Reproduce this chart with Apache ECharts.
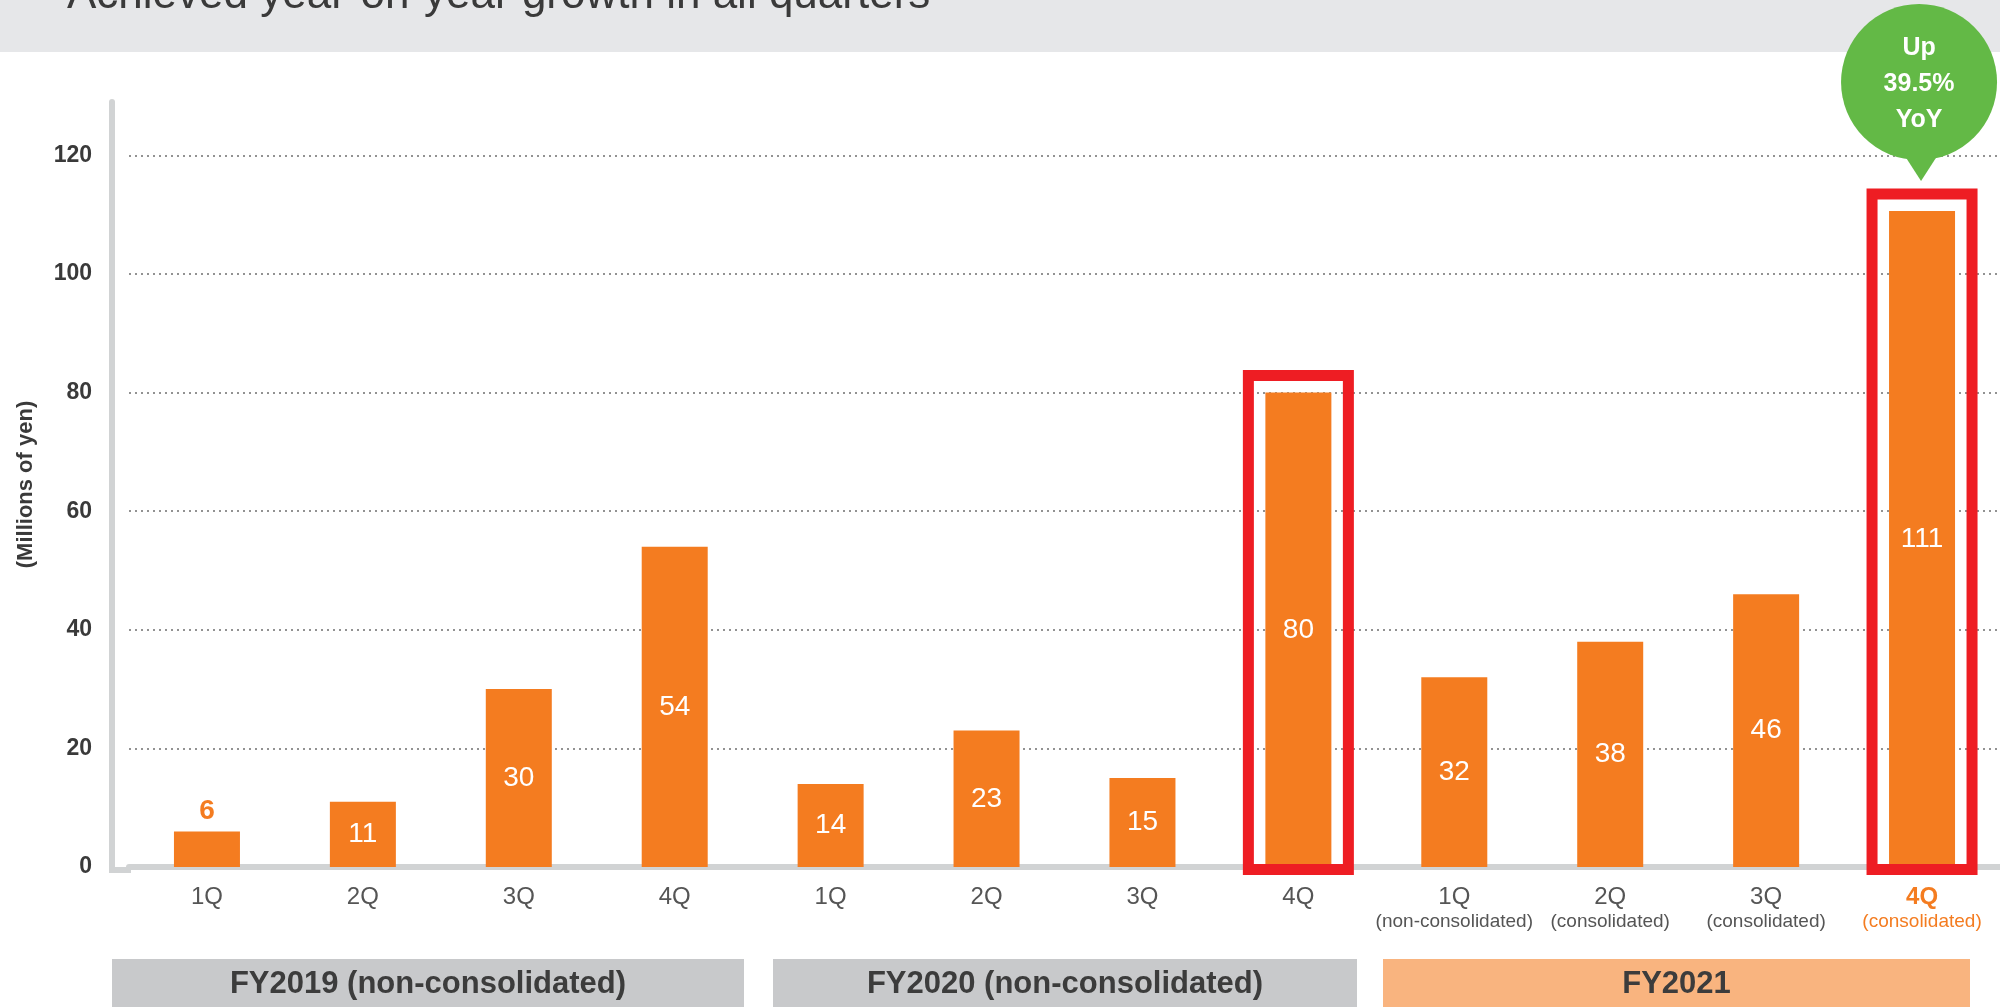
<!DOCTYPE html>
<html>
<head>
<meta charset="utf-8">
<script src="https://cdn.jsdelivr.net/npm/echarts@6/dist/echarts.min.js"></script>
<style>
html,body{margin:0;padding:0;background:#fff;}
#chart{width:2000px;height:1007px;}
</style>
</head>
<body>
<div id="chart"></div>
<script>
// ---- data ----
const chartTitle = 'Achieved year-on-year growth in all quarters';
const quarters = ['1Q','2Q','3Q','4Q','1Q','2Q','3Q','4Q','1Q','2Q','3Q','4Q'];
const quarterNotes = ['','','','','','','','','(non-consolidated)','(consolidated)','(consolidated)','(consolidated)'];
const sales = [6, 11, 30, 54, 14, 23, 15, 80, 32, 38, 46, 110.6];
const yTicks = [0, 20, 40, 60, 80, 100, 120];
const yAxisName = '(Millions of yen)';
const highlightedBars = [7, 11];
const emphasisCategory = 11;
const outsideLabelBars = [0];
const bubbleBar = 11;
const bubbleLines = ['Up', '39.5%', 'YoY'];
const fiscalYears = ['FY2019 (non-consolidated)', 'FY2020 (non-consolidated)', 'FY2021'];

// ---- styling / layout ----
const FONT = '"Liberation Sans", Arial, Helvetica, sans-serif';
const ORANGE = '#f47c20';
const RED = '#ee1d23';
const GREEN = '#63b946';
const AXIS_GRAY = '#d1d3d4';
const BAR_W = 66;
const fyBoxLayout = [
  {x: 112, w: 632, fill: '#c8c9cb'},
  {x: 773, w: 584, fill: '#c8c9cb'},
  {x: 1383, w: 587, fill: '#f9b47f'}
];

const chart = echarts.init(document.getElementById('chart'), null, {renderer: 'canvas'});

const catIds = quarters.map((q, i) => String(i));

const option = {
  animation: false,
  backgroundColor: '#ffffff',
  textStyle: {fontFamily: FONT},
  grid: {left: 129, right: 0, top: 102, bottom: 140, containLabel: false},
  xAxis: {
    type: 'category',
    data: catIds,
    offset: 3,
    axisLine: {show: true, lineStyle: {color: AXIS_GRAY, width: 6}},
    axisTick: {show: false},
    splitLine: {show: false},
    axisLabel: {
      interval: 0,
      margin: 14,
      formatter: function (v) {
        const idx = Number(v);
        if (idx === emphasisCategory) {
          return '{qh|' + quarters[idx] + '}\n{sh|' + quarterNotes[idx] + '}';
        }
        if (quarterNotes[idx]) {
          return '{q|' + quarters[idx] + '}\n{s|' + quarterNotes[idx] + '}';
        }
        return '{q|' + quarters[idx] + '}';
      },
      rich: {
        q: {fontSize: 24, lineHeight: 26, color: '#555555', fontFamily: FONT},
        s: {fontSize: 19, lineHeight: 24, color: '#555555', fontFamily: FONT},
        qh: {fontSize: 24, lineHeight: 26, color: ORANGE, fontWeight: 'bold', fontFamily: FONT},
        sh: {fontSize: 19, lineHeight: 24, color: ORANGE, fontFamily: FONT}
      }
    }
  },
  yAxis: {
    type: 'value',
    min: yTicks[0],
    max: 129,
    interval: yTicks[1] - yTicks[0],
    offset: 17,
    name: yAxisName,
    nameLocation: 'middle',
    nameRotate: 90,
    nameGap: 75,
    nameTextStyle: {fontSize: 22, fontWeight: 'bold', color: '#3a3a3a', fontFamily: FONT},
    axisLine: {show: true, lineStyle: {color: AXIS_GRAY, width: 6}},
    axisTick: {show: false},
    axisLabel: {
      showMaxLabel: false,
      margin: 20,
      fontSize: 23,
      fontWeight: 'bold',
      color: '#3a3a3a',
      fontFamily: FONT
    },
    splitLine: {
      show: true,
      showMinLine: false,
      showMaxLine: false,
      lineStyle: {color: '#929292', width: 2, type: [2, 4]}
    }
  },
  series: [
    {
      type: 'bar',
      barWidth: BAR_W,
      z: 2,
      itemStyle: {color: ORANGE},
      label: {
        show: true,
        position: 'inside',
        color: '#ffffff',
        fontSize: 28,
        fontFamily: FONT,
        formatter: function (p) { return String(Math.round(p.value)); }
      },
      data: sales.map((v, i) => outsideLabelBars.includes(i)
        ? {value: v, label: {position: 'top', color: ORANGE, fontWeight: 'bold', distance: 6}}
        : v)
    },
    {
      type: 'custom',
      clip: false,
      z: 5,
      silent: true,
      data: highlightedBars.map(i => [i, sales[i]]),
      renderItem: function (params, api) {
        const top = api.coord([api.value(0), api.value(1)]);
        const base = api.coord([api.value(0), 0]);
        const m = 17;
        const y0 = top[1] - m;
        return {
          type: 'rect',
          shape: {x: top[0] - BAR_W / 2 - m, y: y0, width: BAR_W + 2 * m, height: base[1] + 2.5 - y0},
          style: {fill: 'none', stroke: RED, lineWidth: 11}
        };
      }
    },
    {
      type: 'custom',
      clip: false,
      z: 6,
      silent: true,
      data: [[bubbleBar, sales[bubbleBar]]],
      renderItem: function (params, api) {
        const p = api.coord([api.value(0), api.value(1)]);
        const tipX = p[0] - 1;
        const tipY = p[1] - 30;
        const cx = p[0] - 3;
        const cy = tipY - 99;
        return {
          type: 'group',
          children: [
            {type: 'circle', shape: {cx: cx, cy: cy, r: 78}, style: {fill: GREEN}},
            {type: 'polygon', shape: {points: [[tipX - 20, cy + 68], [tipX + 20, cy + 68], [tipX, tipY]]}, style: {fill: GREEN}},
            {
              type: 'text',
              x: cx,
              y: cy + 2,
              style: {
                text: bubbleLines.join('\n'),
                align: 'center',
                verticalAlign: 'middle',
                fill: '#ffffff',
                fontSize: 25,
                fontWeight: 'bold',
                fontFamily: FONT,
                lineHeight: 36
              }
            }
          ]
        };
      }
    }
  ],
  graphic: [
    {type: 'rect', shape: {x: 0, y: 0, width: 2000, height: 52}, style: {fill: '#e6e7e9'}, z: 0},
    {
      type: 'text', x: 67, y: -4, z: 1,
      style: {text: chartTitle, fill: '#3a3a3a', fontSize: 44, fontFamily: FONT, verticalAlign: 'middle', align: 'left'}
    },
    {type: 'rect', shape: {x: 109, y: 867, width: 22, height: 6}, style: {fill: AXIS_GRAY}, z: 0}
  ].concat(fiscalYears.map((t, k) => ({
    type: 'group',
    children: [
      {type: 'rect', shape: {x: fyBoxLayout[k].x, y: 959, width: fyBoxLayout[k].w, height: 60}, style: {fill: fyBoxLayout[k].fill}},
      {
        type: 'text',
        x: fyBoxLayout[k].x + fyBoxLayout[k].w / 2,
        y: 984,
        style: {text: t, align: 'center', verticalAlign: 'middle', fill: '#3c3c3c', fontSize: 31, fontWeight: 'bold', fontFamily: FONT}
      }
    ]
  })))
};

chart.setOption(option);
</script>
</body>
</html>
